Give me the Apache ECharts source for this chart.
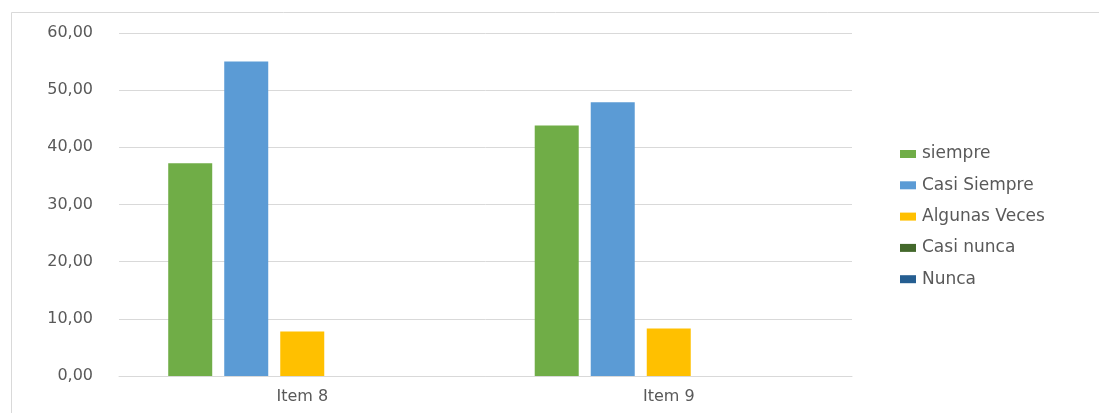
<!DOCTYPE html>
<html>
<head>
<meta charset="utf-8">
<title>Item 8 / Item 9</title>
<script src="https://cdn.jsdelivr.net/npm/echarts@6/dist/echarts.min.js"></script>
<style>
  html, body { margin: 0; padding: 0; background: #fff; }
  #chart { width: 1099px; height: 413px; }
</style>
</head>
<body>
<div id="chart"></div>
<script>
// Categories and answers per item (percent)
const categories = ['Item 8', 'Item 9'];
const seriesNames = ['siempre', 'Casi Siempre', 'Algunas Veces', 'Casi nunca', 'Nunca'];
const siempre = [37.2, 43.8];
const casiSiempre = [55.0, 47.9];
const algunasVeces = [7.8, 8.3];
const casiNunca = [0, 0];
const nunca = [0, 0];
const yTicks = { min: 0, max: 60, interval: 10 };

const colors = ['#70AD47', '#5B9BD5', '#FFC000', '#43682B', '#255E91'];
const values = [siempre, casiSiempre, algunasVeces, casiNunca, nunca];
const textColor = '#595959';
const lineColor = '#D9D9D9';
const font = 'DejaVu Sans';

const chart = echarts.init(document.getElementById('chart'), null, { renderer: 'canvas' });

chart.setOption({
  animation: false,
  backgroundColor: '#ffffff',
  color: colors,
  graphic: [{
    type: 'rect',
    shape: { x: 11.5, y: 12.5, width: 1200, height: 500 },
    style: { fill: 'none', stroke: lineColor, lineWidth: 1 },
    silent: true,
    z: -1
  }],
  grid: { left: 119, right: 247, top: 33, bottom: 37, containLabel: false },
  legend: {
    orient: 'vertical',
    left: 895,
    top: 139,
    itemWidth: 16,
    itemHeight: 8,
    itemGap: 11.3,
    icon: 'rect',
    data: seriesNames,
    textStyle: { color: textColor, fontFamily: font, fontSize: 17, lineHeight: 20, padding: [0, 0, 0, 1] }
  },
  xAxis: {
    type: 'category',
    data: categories,
    axisLine: { show: true, lineStyle: { color: lineColor, width: 1 } },
    axisTick: { show: false },
    axisLabel: { color: textColor, fontFamily: font, fontSize: 16, margin: 13 },
    splitLine: { show: false }
  },
  yAxis: {
    type: 'value',
    min: yTicks.min,
    max: yTicks.max,
    interval: yTicks.interval,
    axisLine: { show: false },
    axisTick: { show: false },
    axisLabel: {
      color: textColor, fontFamily: font, fontSize: 16, margin: 26,
      formatter: v => v.toFixed(2).replace('.', ',')
    },
    splitLine: { show: true, lineStyle: { color: lineColor, width: 1 } }
  },
  series: seriesNames.map((name, i) => ({
    name: name,
    type: 'bar',
    data: values[i],
    barWidth: 44,
    barGap: '27.3%',
    itemStyle: { color: colors[i] }
  }))
});
</script>
</body>
</html>
